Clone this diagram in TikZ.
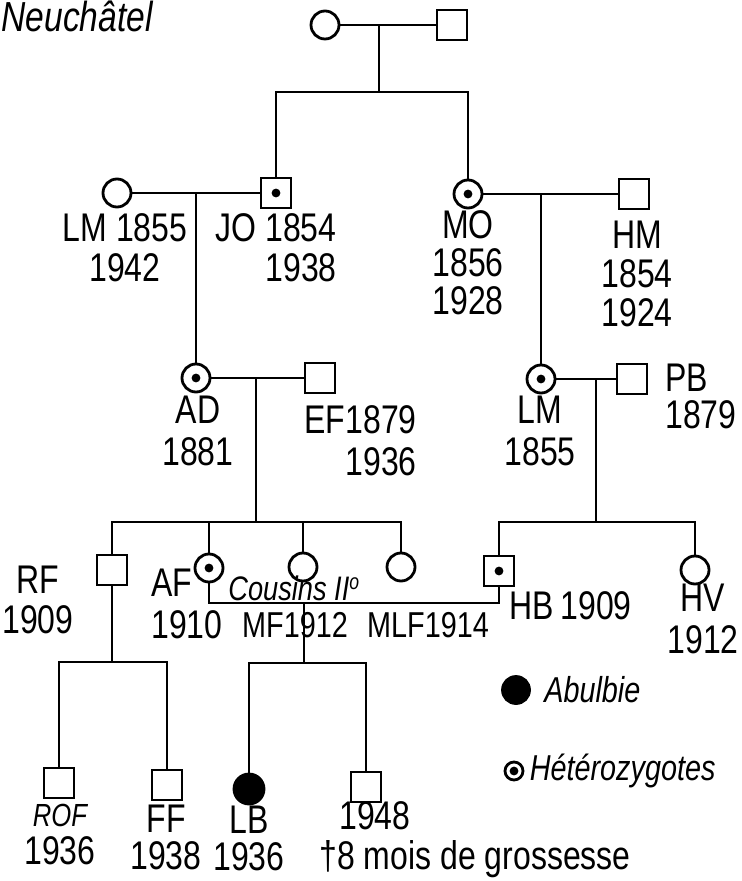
\documentclass[tikz,border=0pt]{standalone}
\usepackage{fontspec}
\setmainfont{Liberation Sans}[FakeStretch=0.8]
\usepackage{tikz}
\usetikzlibrary{positioning}

\begin{document}
\begin{tikzpicture}[
  x=0.5pt, y=-0.5pt,
  line width=1.4pt,
  font=\fontsize{20}{18}\selectfont,
  female/.style={
    draw=black,
    circle,
    minimum size=14pt,
    inner sep=0pt,
  },
  male/.style={
    draw=black,
    rectangle,
    minimum size=15pt,
    inner sep=0pt,
  },
  carrier/.style={
    path picture={\fill (path picture bounding box.center) circle (2.2pt);},
  },
  affected/.style={
    female,
    fill=black,
    minimum size=15pt,
  },
  who/.style={
    inner sep=0pt,
    align=center,
  },
  legend/.style={
    inner sep=0pt,
    anchor=west,
    font=\fontsize{18}{18}\selectfont\itshape,
  }
]
  \useasboundingbox (0,0) rectangle (742,881);

  \node[legend, font=\fontsize{21}{21}\selectfont\itshape] (place) at (0,16) {Neuchâtel};

  % === GENERATION I ===
  \node[female] (g1f) at (325,25) {};
  \node[male] (g1m) at (452,25) {};
  \draw (g1f) -- (g1m);
  \coordinate (u1) at (379,25);
  \coordinate (s1) at (379,92);
  \draw (u1) -- (s1);

  % === GENERATION II ===
  % LM x JO (left)
  \node[female] (lm1) at (117,193) {};
  \node[male, carrier] (jo) at (276,193) {};
  \draw (lm1) -- (jo);
  \node[who] (lm1-t) at (125,248) {LM 1855\\[2pt]1942};
  \node[who, align=right, anchor=east] (jo-t) at (338,248) {JO 1854\\[2pt]1938};

  % MO x HM (right)
  \node[female, carrier] (mo) at (468,194) {};
  \node[male] (hm) at (634,194) {};
  \draw (mo) -- (hm);
  \node[who] (mo-t) at (468,263) {MO\\[1pt]1856\\[1pt]1928};
  \node[who] (hm-t) at (637,274) {HM\\[1.5pt]1854\\[1.5pt]1924};

  \draw (jo.north) |- (s1) -| (mo.north);

  % === GENERATION III ===
  % AD x EF
  \node[female, carrier] (ad) at (196,378) {};
  \node[male] (ef) at (320,378) {};
  \draw (ad) -- (ef);
  \coordinate (u2) at (196,193);
  \draw (u2) -- (ad.north);
  \node[who] (ad-t) at (198,431) {AD\\[3pt]1881};
  \node[who, align=right, anchor=east] (ef-t) at (418,441) {EF1879\\[3pt]1936};

  % LM x PB
  \node[female, carrier] (lm2) at (541,379) {};
  \node[male] (pb) at (632,379) {};
  \draw (lm2) -- (pb);
  \coordinate (u3) at (541,194);
  \draw (u3) -- (lm2.north);
  \node[who] (lm2-t) at (540,431) {LM\\[3pt]1855};
  \node[who, align=left, anchor=west] (pb-t) at (664,396) {PB\\[0.5pt]1879};

  % === GENERATION IV ===
  \coordinate (u4) at (256,378);
  \coordinate (s4) at (256,522);
  \draw (u4) -- (s4);
  \node[male] (rf) at (112,570) {};
  \node[female, carrier] (af) at (209,568) {};
  \node[female] (mf) at (303,567) {};
  \node[female] (mlf) at (401,567) {};
  \draw (rf.north) |- (s4) -| (mlf.north);
  \draw (af.north) -- (af.north |- s4);
  \draw (mf.north) -- (mf.north |- s4);

  \coordinate (u5) at (596,379);
  \coordinate (s5) at (596,522);
  \draw (u5) -- (s5);
  \node[male, carrier] (hb) at (499,571) {};
  \node[female] (hv) at (695,570) {};
  \draw (hb.north) |- (s5) -| (hv.north);

  \node[who] (rf-t) at (38,600) {RF\\[2pt]1909};
  \node[who, align=left, anchor=west] (af-t) at (150,604) {AF\\[3pt]1910};
  \node[who, font=\fontsize{18}{18}\selectfont] (mf-t) at (295,625) {MF1912};
  \node[who, font=\fontsize{18}{18}\selectfont] (mlf-t) at (428,625) {MLF1914};
  \node[who, anchor=west] (hb-t) at (508,606) {HB\,1909};
  \node[who, anchor=east] (hv-t) at (740,619) {HV\\[3pt]1912};

  % cousin marriage
  \coordinate (u6) at (304,603);
  \draw (af.south) |- (u6) -| (hb.south);
  \node[legend, font=\fontsize{17}{17}\selectfont\itshape] (cous) at (227,590) {\underline{Cousins} \underline{II}\raisebox{0.6ex}{\fontsize{11}{11}\selectfont o}};

  % === GENERATION V ===
  \coordinate (s6) at (112,662);
  \draw (rf.south) -- (s6);
  \node[male] (rof) at (59,783) {};
  \node[male] (ff) at (167,785) {};
  \draw (rof.north) |- (s6) -| (ff.north);

  \coordinate (s7) at (304,663);
  \draw (u6) -- (s7);
  \node[affected] (lb) at (249,789) {};
  \node[male] (nn) at (366,787) {};
  \draw (lb.north) |- (s7) -| (nn.north);

  \node[who] (rof-t) at (60,835) {{\fontsize{16}{16}\selectfont\itshape ROF}\\[1pt]1936};
  \node[who] (ff-t) at (166,837) {FF\\[0.5pt]1938};
  \node[who] (lb-t) at (249,838) {LB\\[0.5pt]1936};
  \node[who] (nn-t) at (375,816) {1948};
  \node[who, anchor=west] (nn-d) at (318,859) {\dag 8 mois de grossesse};

  % === LEGEND ===
  \node[affected, minimum size=13.5pt] (key-a) at (516,690) {};
  \node[legend, right=6pt of key-a] (key-at) {Abulbie};
  \node[female, carrier, minimum size=9pt] (key-h) at (514,771) {};
  \node[legend, right=2pt of key-h] (key-ht) {Hétérozygotes};

\end{tikzpicture}
\end{document}
